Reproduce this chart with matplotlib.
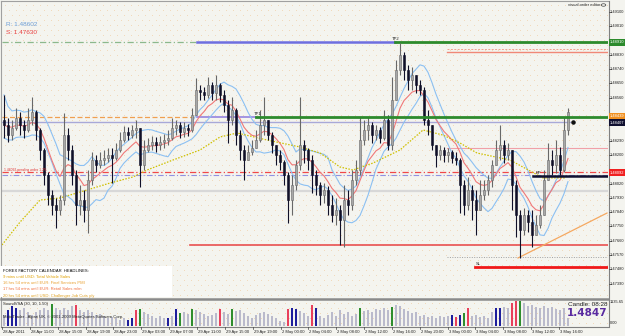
import numpy as np
import pandas as pd
import matplotlib
matplotlib.use("Agg")
import matplotlib.pyplot as plt
from matplotlib.patches import Rectangle, Circle
from matplotlib import font_manager

# ---------------- data ----------------
first_open = 1.48420
closes = [1.48389, 1.48325, 1.48370, 1.48433, 1.48389, 1.48357, 1.48420, 1.48470, 1.48357, 1.48231,
          1.48074, 1.47948, 1.47885, 1.47853, 1.47916, 1.48325, 1.48231, 1.48074, 1.47885, 1.47916,
          1.47853, 1.48042, 1.48168, 1.48137, 1.48168, 1.48181, 1.48200, 1.48181, 1.48231, 1.48294,
          1.48344, 1.48325, 1.48357, 1.48370, 1.48137, 1.48231, 1.48263, 1.48281, 1.48263, 1.48281,
          1.48294, 1.48307, 1.48370, 1.48389, 1.48344, 1.48370, 1.48357, 1.48451, 1.48609, 1.48596,
          1.48578, 1.48641, 1.48590, 1.48641, 1.48578, 1.48515, 1.48420, 1.48483, 1.48325, 1.48231,
          1.48168, 1.48218, 1.48244, 1.48294, 1.48389, 1.48420, 1.48325, 1.48263, 1.48200, 1.48155,
          1.48074, 1.47916, 1.48011, 1.48137, 1.48263, 1.48231, 1.48168, 1.48074, 1.48011, 1.47948,
          1.47979, 1.47885, 1.47822, 1.47853, 1.47790, 1.47916, 1.47885, 1.48042, 1.48105, 1.48294,
          1.48357, 1.48389, 1.48325, 1.48357, 1.48307, 1.48420, 1.48263, 1.48546, 1.48735, 1.48830,
          1.48735, 1.48672, 1.48704, 1.48641, 1.48609, 1.48420, 1.48389, 1.48263, 1.48200, 1.48231,
          1.48200, 1.48218, 1.48181, 1.48168, 1.48011, 1.47885, 1.47979, 1.47916, 1.47853, 1.47948,
          1.47979, 1.48042, 1.48137, 1.48231, 1.48263, 1.48200, 1.48231, 1.48011, 1.47822, 1.47727,
          1.47822, 1.47777, 1.47696, 1.47759, 1.47822, 1.48042, 1.48168, 1.48137, 1.48200, 1.48105,
          1.48357, 1.48470]
highs = [1.48578, 1.48433, 1.48420, 1.48496, 1.48470, 1.48420, 1.48496, 1.48565, 1.48483, 1.48370,
         1.48244, 1.48092, 1.47979, 1.47929, 1.47948, 1.48464, 1.48370, 1.48263, 1.48105, 1.48011,
         1.47979, 1.48105, 1.48218, 1.48200, 1.48218, 1.48231, 1.48244, 1.48244, 1.48275, 1.48344,
         1.48382, 1.48376, 1.48389, 1.48420, 1.48370, 1.48294, 1.48307, 1.48319, 1.48313, 1.48319,
         1.48332, 1.48357, 1.48433, 1.48420, 1.48407, 1.48407, 1.48395, 1.48496, 1.48685, 1.48641,
         1.48628, 1.48691, 1.48659, 1.48704, 1.48653, 1.48609, 1.48546, 1.48565, 1.48496, 1.48357,
         1.48263, 1.48263, 1.48294, 1.48357, 1.48483, 1.48565, 1.48407, 1.48344, 1.48263, 1.48231,
         1.48168, 1.48092, 1.48074, 1.48168, 1.48565, 1.48294, 1.48244, 1.48200, 1.48105, 1.48030,
         1.48023, 1.48004, 1.47948, 1.47929, 1.47885, 1.48011, 1.47979, 1.48105, 1.48168, 1.48439,
         1.48420, 1.48439, 1.48407, 1.48389, 1.48376, 1.48483, 1.48451, 1.48691, 1.48798, 1.48905,
         1.48848, 1.48766, 1.48754, 1.48704, 1.48672, 1.48628, 1.48483, 1.48389, 1.48263, 1.48263,
         1.48250, 1.48244, 1.48231, 1.48218, 1.48181, 1.48042, 1.48061, 1.48011, 1.47979, 1.48042,
         1.48042, 1.48074, 1.48168, 1.48294, 1.48389, 1.48294, 1.48275, 1.48231, 1.48042, 1.47853,
         1.47866, 1.47853, 1.47853, 1.47822, 1.47885, 1.48105, 1.48275, 1.48231, 1.48294, 1.48250,
         1.48439, 1.48496]
lows = [1.48307, 1.48281, 1.48294, 1.48357, 1.48325, 1.48307, 1.48344, 1.48389, 1.48294, 1.48168,
        1.48011, 1.47885, 1.47822, 1.47740, 1.47822, 1.47885, 1.48168, 1.48011, 1.47759, 1.47822,
        1.47777, 1.47708, 1.48011, 1.48092, 1.48118, 1.48137, 1.48155, 1.48023, 1.48168, 1.48218,
        1.48281, 1.48294, 1.48307, 1.48307, 1.47998, 1.48105, 1.48218, 1.48231, 1.48218, 1.48231,
        1.48244, 1.48263, 1.48294, 1.48325, 1.48307, 1.48313, 1.48319, 1.48344, 1.48451, 1.48546,
        1.48546, 1.48559, 1.48546, 1.48546, 1.48533, 1.48470, 1.48275, 1.48389, 1.48263, 1.48168,
        1.48042, 1.48168, 1.48200, 1.48244, 1.48281, 1.48325, 1.48294, 1.48212, 1.48137, 1.48105,
        1.48011, 1.47771, 1.47822, 1.47979, 1.48105, 1.48149, 1.48105, 1.47960, 1.47948, 1.47885,
        1.47897, 1.47822, 1.47777, 1.47759, 1.47633, 1.47620, 1.47822, 1.47853, 1.48011, 1.48074,
        1.48263, 1.48294, 1.48275, 1.48294, 1.48275, 1.48294, 1.48231, 1.48231, 1.48546, 1.48704,
        1.48672, 1.48609, 1.48609, 1.48590, 1.48578, 1.48389, 1.48325, 1.48231, 1.48124, 1.48168,
        1.48155, 1.48155, 1.48149, 1.48137, 1.47834, 1.47822, 1.47853, 1.47790, 1.47696, 1.47885,
        1.47916, 1.47948, 1.47998, 1.48149, 1.48168, 1.48149, 1.48168, 1.47853, 1.47683, 1.47551,
        1.47696, 1.47714, 1.47620, 1.47714, 1.47740, 1.47822, 1.48042, 1.48074, 1.48086, 1.48074,
        1.48092, 1.48325]
volumes = [480, 700, 870, 790, 700, 790, 610, 480, 610, 700,
           790, 700, 960, 790, 700, 790, 700, 870, 920, 700,
           610, 700, 610, 480, 520, 440, 350, 390, 350, 260,
           350, 260, 350, 700, 740, 610, 520, 440, 350, 440,
           350, 350, 440, 740, 570, 610, 520, 740, 700, 610,
           520, 440, 480, 570, 740, 610, 520, 740, 660, 700,
           570, 440, 350, 480, 570, 610, 520, 440, 350, 220,
           175, 740, 790, 740, 660, 570, 440, 920, 790, 440,
           350, 480, 610, 440, 700, 520, 610, 440, 520, 790,
           660, 700, 610, 740, 700, 790, 700, 830, 920, 870,
           740, 660, 570, 610, 440, 480, 390, 440, 350, 440,
           390, 440, 480, 390, 480, 570, 790, 440, 480, 390,
           440, 350, 610, 790, 790, 830, 790, 1000, 1090, 1090,
           1000, 870, 920, 830, 790, 870, 790, 830, 740, 700,
           790, 350]
vol_blue = [1, 2, 3, 31, 32, 41, 43, 72, 73, 78, 112, 114, 123, 124]
vol_green = [12, 34, 44, 47, 57, 89, 97, 115, 129]
vol_red = [18, 33, 54, 71, 77, 113, 116, 127, 128]

slow_ma_bars = [-0.5, 4, 9, 14, 19, 26.5, 32.25, 35.75, 42.25, 49, 54, 58.25, 65.75, 74, 79,
                84, 87.25, 92.25, 99, 104.75, 109.75, 114, 118.25, 126.5, 134.75, 140.25]
slow_ma_vals = [1.47633, 1.47777, 1.47916, 1.47929, 1.47966, 1.48023, 1.48061, 1.48105, 1.48168,
                1.48231, 1.48313, 1.48338, 1.48294, 1.48250, 1.48212, 1.48124, 1.48105, 1.48149,
                1.48231, 1.48357, 1.48325, 1.48275, 1.48212, 1.48168, 1.48055, 1.48055]

price_ticks = [1.47300, 1.47390, 1.47480, 1.47570, 1.47660, 1.47750, 1.47840, 1.47930, 1.48020,
               1.48110, 1.48200, 1.48290, 1.48380, 1.48470, 1.48560, 1.48650, 1.48740, 1.48830,
               1.48920, 1.49010, 1.49100]
time_labels = ["28 Apr 2011", "28 Apr 11:00", "28 Apr 15:00", "28 Apr 19:00", "28 Apr 23:00",
               "29 Apr 03:00", "29 Apr 07:00", "29 Apr 11:00", "29 Apr 15:00", "29 Apr 19:00",
               "2 May 00:00", "2 May 04:00", "2 May 08:00", "2 May 12:00", "2 May 16:00",
               "2 May 20:00", "3 May 00:00", "3 May 04:00", "3 May 08:00", "3 May 12:00",
               "3 May 16:00"]

resistance = 1.48602
support = 1.47630
bid = 1.4847
candle_timer = "08:28"
tp2_level = 1.48910
tp1_level = 1.48439
order_level = 1.48407
pend_red = 1.48092
pend_blue = 1.48074
entry_level = 1.48067
grey_level = 1.47973
salmon_levels = [1.48867, 1.48848]
pink_level = 1.48244
dotted_level = 1.47557
sl_level = 1.47494
trend_bars = [128.5, 150.75]
trend_vals = [1.47551, 1.47834]

headlines = ["FOREX FACTORY CALENDAR  HEADLINES:",
             "9 mins until USD: Total Vehicle Sales",
             "16 hrs 54 mins until EUR: Final Services PMI",
             "17 hrs 54 mins until EUR: Retail Sales m/m",
             "20 hrs 54 mins until USD: Challenger Job Cuts y/y"]
headline_colors = ["#000000", "#E0A000", "#E8A030", "#F07040", "#E0A020"]

# ---------------- fonts ----------------
avail = {f.name for f in font_manager.fontManager.ttflist}
NARROW = 'Liberation Sans Narrow' in avail
FAM = ['Liberation Sans Narrow', 'DejaVu Sans'] if NARROW else ['Liberation Sans', 'DejaVu Sans']
plt.rcParams['font.family'] = FAM
SMALL = 3.6 if NARROW else 3.0

# ---------------- figure / axes ----------------
W, H = 625, 336
BG = '#F4F4EF'
fig = plt.figure(figsize=(W / 100, H / 100), dpi=100, facecolor=BG)

def fx(x):
    return x / W

def fy(y):
    return 1 - y / H

ax = fig.add_axes([fx(2), fy(298), 606 / W, 296 / H])
axv = fig.add_axes([fx(2), fy(326), 606 / W, 26 / H])
XL = (-0.5, 151.0)
YL = (1.47299, 1.49163)
for a in (ax, axv):
    a.set_facecolor(BG)
    a.set_xlim(*XL)
    a.set_xticks([])
    a.set_yticks([])
    for s in a.spines.values():
        s.set_visible(False)
ax.set_ylim(*YL)
axv.set_ylim(0, 1135.65)

def ypx_of(p):
    return 298 - (p - YL[0]) / (YL[1] - YL[0]) * 296

# background dot pattern
for a, hpx in ((ax, 296), (axv, 26)):
    gx, gy = np.meshgrid(np.arange(3, 606, 7), np.arange(3, hpx, 5))
    gx = gx + (np.arange(gx.shape[0])[:, None] % 2) * 3.5
    a.scatter(gx.ravel() / 606, 1 - gy.ravel() / hpx, s=0.25, c='#F1C99C',
              transform=a.transAxes, zorder=0, linewidths=0)

# frame lines
fig.add_artist(plt.Line2D([fx(1), fx(608)], [fy(1), fy(1)], color='#A0A0A0', lw=0.8))
fig.add_artist(plt.Line2D([fx(1), fx(1)], [fy(1), fy(326)], color='#A0A0A0', lw=0.8))
fig.add_artist(plt.Line2D([fx(608.5), fx(608.5)], [fy(1), fy(327)], color='#808080', lw=0.8))
fig.add_artist(plt.Line2D([fx(1), fx(608)], [fy(299), fy(299)], color='#8A8A8A', lw=1.8))
fig.add_artist(plt.Line2D([fx(1), fx(608)], [fy(326.5), fy(326.5)], color='#808080', lw=0.8))

n = len(closes)
idx = np.arange(n)
opens = [first_open] + closes[:-1]

# ---------------- horizontal trade lines ----------------
def hseg(level, x0, x1, **kw):
    ax.plot([x0, x1], [level, level], **kw)

hseg(tp2_level, -0.5, 48.25, color='#8CB88C', lw=0.9, ls=(0, (5, 2, 1, 2)), zorder=2)
hseg(tp2_level, 48.25, 97.75, color='#6E6EE0', lw=1.8, zorder=2)
hseg(tp2_level, 97.75, 151, color='#2C8A2C', lw=2.0, zorder=2)
hseg(salmon_levels[0], 110.75, 151, color='#F0A090', lw=0.7, ls=(0, (2, 1.5)), zorder=2)
hseg(salmon_levels[1], 110.75, 151, color='#F08878', lw=1.0, zorder=2)
hseg(tp1_level, -0.5, 48.25, color='#F0A050', lw=0.9, ls=(0, (4, 2)), zorder=2)
hseg(tp1_level, 48.25, 63, color='#9C8CE0', lw=1.3, zorder=2)
hseg(tp1_level, 63, 151, color='#2C8A2C', lw=2.0, zorder=5)
hseg(order_level, -0.5, 141.5, color='#A8A8D8', lw=1.0, zorder=2)
ax.scatter([142.25], [order_level], s=5, c='#101010', zorder=6)
hseg(pink_level, 110.75, 151, color='#F0A0A8', lw=0.8, zorder=2)
hseg(pend_red, -0.5, 151, color='#F04848', lw=0.9, ls=(0, (5, 2, 1, 2)), zorder=2)
hseg(pend_blue, -0.5, 151, color='#9090E0', lw=0.8, ls=(0, (5, 2, 1, 2)), zorder=2)
hseg(grey_level, -0.5, 151, color='#D8D8D8', lw=1.6, zorder=1)
hseg(entry_level, 132.25, 151, color='#101030', lw=1.8, zorder=6)
hseg(support, 46.5, 151, color='#E85050', lw=1.2, zorder=2)
hseg(dotted_level, 110.75, 151, color='#A0A0A0', lw=0.7, ls=(0, (1, 1.5)), zorder=2)
hseg(sl_level, 117.75, 151, color='#F01818', lw=2.0, zorder=2)
ax.plot(trend_bars, trend_vals, color='#F5A860', lw=0.9, zorder=2)

# ---------------- indicators ----------------
cs = pd.Series(closes)
red_ma = cs.ewm(span=9, adjust=False).mean()
up_ma = pd.Series(highs).rolling(8, min_periods=1).mean()
lo_ma = pd.Series(lows).rolling(8, min_periods=1).mean()
ax.plot(idx, up_ma, color='#8CC0F2', lw=0.8, zorder=3)
ax.plot(idx, lo_ma, color='#8CC0F2', lw=0.8, zorder=3)
ax.plot(idx, red_ma, color='#F07878', lw=0.8, zorder=3)
ax.plot(slow_ma_bars, slow_ma_vals, color='#CFC000', lw=0.9, ls=(0, (1.2, 1.2)), zorder=3)

# ---------------- candles ----------------
for i in range(n):
    o, c = opens[i], closes[i]
    h = max(highs[i], o, c)
    l = min(lows[i], o, c)
    up = c >= o
    wc = '#686868' if up else '#101028'
    fc = '#A8A8A8' if up else '#101028'
    ax.plot([i, i], [l, h], color=wc, lw=0.8, zorder=4, solid_capstyle='butt')
    ax.add_patch(Rectangle((i - 0.3, min(o, c)), 0.6, max(abs(c - o), 0.00004),
                           facecolor=fc, edgecolor=wc, lw=0.4, zorder=4))

# labels on lines
tk = dict(fontsize=SMALL, color='#202020', zorder=7)
ax.text(97.0, tp2_level + 0.00006, "TP2", ha='left', va='bottom', **tk)
ax.text(62.5, tp1_level + 0.00006, "TP1", ha='left', va='bottom', **tk)
ax.text(132.8, entry_level + 0.00004, "EP", ha='left', va='bottom', **tk)
ax.text(118.0, sl_level + 0.00004, "SL", ha='left', va='bottom', **tk)
ax.text(0.0, pend_red + 0.00003, "1.48092 pending order 1.2%", fontsize=SMALL - 0.6,
        color='#E03030', ha='left', va='bottom', zorder=7)

# R / S texts and header
fig.text(fx(6), fy(24), f"R: {resistance:.5f}", fontsize=4.6, color='#6E9ED6', va='center')
fig.text(fx(6), fy(32), f"S: {support:.5f}", fontsize=4.6, color='#E84040', va='center')
fig.text(fx(600), fy(5), "visual order editor", fontsize=SMALL, color='#202020', ha='right', va='center')
fig.add_artist(Circle((fx(603.5), fy(5)), 2.3 / W, transform=fig.transFigure,
                      facecolor='none', edgecolor='#404040', lw=0.5))

# ---------------- price scale ----------------
box_levels = [(tp2_level, '#2C8A2C', tp2_level),
              (tp1_level + 0.00006, '#F09020', tp1_level),
              (order_level - 0.00003, '#101030', order_level),
              (pend_red - 0.00004, '#F02020', pend_red)]
box_px = [ypx_of(b[0]) for b in box_levels]
for p in price_ticks:
    ypx = ypx_of(p)
    if ypx > 294 or min(abs(ypx - b) for b in box_px) < 6:
        continue
    fig.add_artist(plt.Line2D([fx(608.5), fx(611)], [fy(ypx), fy(ypx)], color='#404040', lw=0.5))
    fig.text(fx(610), fy(ypx), f"{p:.5f}", fontsize=2.9, color='#202020', va='center', ha='left')

for lvl, fc, val in box_levels:
    ypx = ypx_of(lvl)
    fig.add_artist(Rectangle((fx(609), fy(ypx + 3.5)), 16 / W, 7 / H, transform=fig.transFigure,
                             facecolor=fc, edgecolor='none', zorder=8))
    fig.text(fx(610), fy(ypx), f"{val:.5f}", fontsize=2.9, color='white', va='center',
             ha='left', zorder=9)

# ---------------- calendar box ----------------
fig.add_artist(Rectangle((fx(0), fy(297)), 172 / W, 31 / H, transform=fig.transFigure,
                         facecolor='white', edgecolor='none', zorder=3))
for k, (t, col) in enumerate(zip(headlines, headline_colors)):
    fig.text(fx(3), fy(271.5 + 6 * k), t, fontsize=SMALL, color=col, va='center', ha='left', zorder=4)

# ---------------- volume panel ----------------
vcols = []
for i in range(n):
    if i in vol_blue:
        vcols.append('#1E1E9C')
    elif i in vol_green:
        vcols.append('#2E8E2E')
    elif i in vol_red:
        vcols.append('#E8405C')
    else:
        vcols.append('#BABACC')
axv.bar(idx, volumes, width=0.55, color=vcols, zorder=2)
fig.text(fx(3), fy(304), "SoundVSA (30, 10, 1.50)", fontsize=SMALL, color='#202020', va='center')
fig.text(fx(3), fy(317), "MetaTrader - Alpari UK, \u00a9 2001-2009 MetaQuotes Software Corp.",
         fontsize=SMALL, color='#202020', va='center', zorder=5)
fig.text(fx(607), fy(304), f"Candle: {candle_timer}", fontsize=4.6, color='#202020', ha='right', va='center')
fig.text(fx(607), fy(313.5), f"{bid:.4f}", fontsize=7.5, color='#5A2AA0', ha='right', va='center',
         fontweight='bold', family=['DejaVu Sans'])
fig.text(fx(610), fy(302), "1135.65", fontsize=2.9, color='#202020', va='center')
fig.text(fx(610), fy(323.5), "0.00", fontsize=2.9, color='#202020', va='center')

# ---------------- time axis ----------------
for k, lab in enumerate(time_labels):
    xp = 2 + 27.85 * k
    fig.add_artist(plt.Line2D([fx(xp), fx(xp)], [fy(326.5), fy(329)], color='#404040', lw=0.5))
    fig.text(fx(xp + 1), fy(331.5), lab, fontsize=SMALL, color='#202020', va='center', ha='left')

fig.savefig("out.png", dpi=100, facecolor=BG)
